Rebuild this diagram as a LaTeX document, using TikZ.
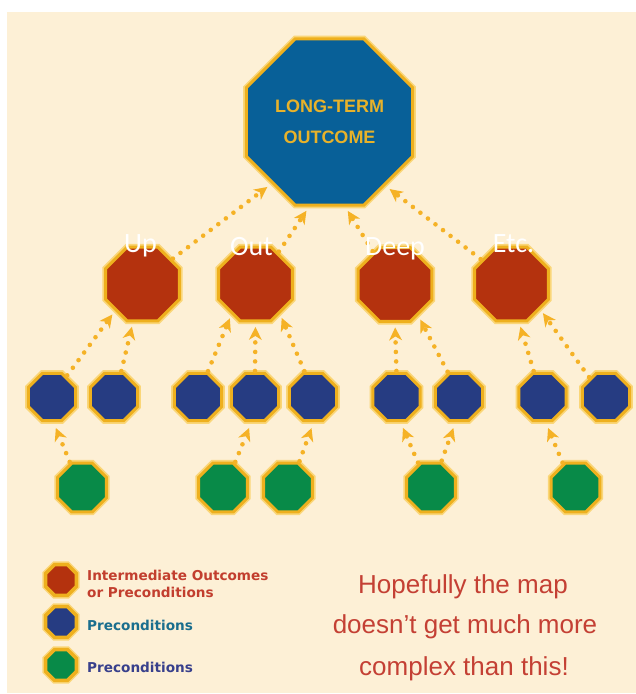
\documentclass[tikz,border=0pt]{standalone}
\usepackage{fontspec}
\setmainfont{Liberation Sans}
\newfontfamily\dvs{DejaVu Sans}
\newfontfamily\carl{Carlito}
\usetikzlibrary{shapes.geometric,arrows.meta}
\definecolor{bgc}{RGB}{253,240,214}
\definecolor{rim}{RGB}{238,176,30}
\definecolor{glow}{RGB}{250,214,120}
\definecolor{arrc}{RGB}{245,178,38}
\definecolor{topblue}{RGB}{8,96,152}
\definecolor{redoct}{RGB}{180,50,14}
\definecolor{blueoct}{RGB}{38,60,130}
\definecolor{greenoct}{RGB}{8,138,72}
\definecolor{toptext}{RGB}{232,178,42}
\definecolor{legred}{RGB}{194,62,46}
\definecolor{legteal}{RGB}{26,110,142}
\definecolor{legnavy}{RGB}{56,64,140}
\definecolor{noteRed}{RGB}{196,64,52}
\begin{document}
\begin{tikzpicture}[x=1pt,y=-1pt,
  oct/.style={regular polygon, regular polygon sides=8, draw=rim, line width=3pt,
    inner sep=0pt, outer sep=0pt, preaction={draw=glow, line width=6.5pt}},
  topoct/.style={oct, fill=topblue, minimum size=179.7pt, text=toptext,
    font=\fontsize{18}{31}\selectfont\bfseries, align=center},
  redo/.style={oct, fill=redoct, minimum size=80pt},
  blueo/.style={oct, fill=blueoct, minimum size=51pt},
  greeno/.style={oct, fill=greenoct, minimum size=53pt},
  lego/.style={oct, line width=3.5pt, minimum size=33.5pt},
  arr/.style={draw=arrc, line width=4.6pt, line cap=round, dash pattern=on 0pt off 9.5pt,
    -{Stealth[length=13pt,width=13pt,inset=4pt,line width=0pt]},
    shorten <=2.5pt, shorten >=6pt},
  garr/.style={arr, shorten >=8pt},
  lvl/.style={text=white, font=\carl\fontsize{28}{28}\selectfont, anchor=base, inner sep=0pt},
  legtxt/.style={font=\dvs\bfseries\fontsize{13.6}{17}\selectfont, anchor=base west, inner sep=0pt},
  note/.style={text=noteRed, font=\fontsize{26}{30}\selectfont, anchor=base, inner sep=0pt}
]
\useasboundingbox (0,0) rectangle (636,694);
\fill[white] (0,0) rectangle (636,694);
\fill[bgc] (7,12) rectangle (636,693);

% long-term outcome
\node[topoct] (T) at (329.5,122) {LONG-TERM\\OUTCOME};

% intermediate outcomes
\node[redo] (R1) at (142.5,284) {};
\node[redo] (R2) at (255.5,284) {};
\node[redo] (R3) at (395,284.5) {};
\node[redo] (R4) at (511.5,284) {};

% preconditions (blue)
\node[blueo] (B1) at (52,397) {};
\node[blueo] (B2) at (114,397) {};
\node[blueo] (B3) at (198,397) {};
\node[blueo] (B4) at (255,397) {};
\node[blueo] (B5) at (313,397) {};
\node[blueo] (B6) at (396.5,397) {};
\node[blueo] (B7) at (459,397) {};
\node[blueo] (B8) at (542.5,397) {};
\node[blueo] (B9) at (606,397) {};

% preconditions (green)
\node[greeno] (G1) at (82,487.5) {};
\node[greeno] (G2) at (223,487.5) {};
\node[greeno] (G3) at (288,487.5) {};
\node[greeno] (G4) at (431,487.5) {};
\node[greeno] (G5) at (575.5,487.5) {};

% arrows red -> top
\draw[arr, shorten >=7pt] (R1.40) -- (T.227);
\draw[arr, shorten >=7pt] (R2.54) -- (T.257);
\draw[arr, shorten >=7pt] (R3.124) -- (T.280);
\draw[arr, shorten >=7pt] (R4.141) -- (T.311);

% arrows blue -> red
\draw[arr] (B1.55) -- (R1.224);
\draw[arr] (B2.74) -- (R1.256);
\draw[arr] (B3.69) -- (R2.231);
\draw[arr] (B4.90) -- (R2.270);
\draw[arr] (B5.108) -- (R2.310);
\draw[arr] (B6.90) -- (R3.270);
\draw[arr] (B7.114) -- (R3.307);
\draw[arr] (B8.109) -- (R4.281);
\draw[arr] (B9.131) -- (R4.319);

% arrows green -> blue
\draw[garr] (G1.116) -- (B1.272);
\draw[garr] (G2.64) -- (B4.263);
\draw[garr] (G3.66) -- (B5.273);
\draw[garr] (G4.118) -- (B6.278);
\draw[garr] (G4.68) -- (B7.263);
\draw[garr] (G5.118) -- (B8.276);

% level labels
\node[lvl] (lup) at (140.5,252) {Up};
\node[lvl] (lout) at (251.5,255) {Out};
\node[lvl] (ldeep) at (395,255) {Deep};
\node[lvl] (letc) at (513.5,252) {Etc.};

% legend
\node[lego, fill=redoct] (L1) at (61,580) {};
\node[lego, fill=blueoct] (L2) at (61,622) {};
\node[lego, fill=greenoct] (L3) at (61,665) {};
\node[legtxt, text=legred] (t1a) at (87,580) {Intermediate Outcomes};
\node[legtxt, text=legred] (t1b) at (87,597) {or Preconditions};
\node[legtxt, text=legteal] (t2) at (87,630) {Preconditions};
\node[legtxt, text=legnavy] (t3) at (87,672) {Preconditions};

% note
\node[note] (n1) at (463,593) {Hopefully the map};
\node[note] (n2) at (465,633) {doesn’t get much more};
\node[note] (n3) at (464,675) {complex than this!};
\end{tikzpicture}
\end{document}
